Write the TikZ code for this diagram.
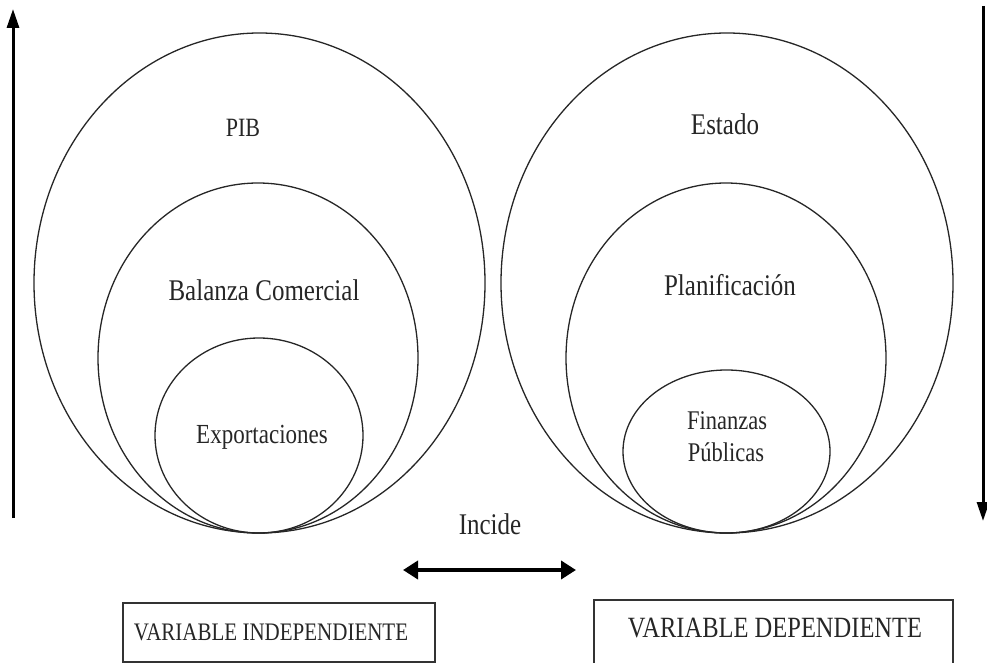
\documentclass[tikz,border=0pt]{standalone}
\usepackage{fontspec}
\usepackage{graphicx}
\setmainfont{Liberation Serif}
\usetikzlibrary{arrows.meta}
\newcommand{\tx}[2]{\scalebox{1}[1.2]{\fontsize{#1}{#1}\selectfont #2}}
\begin{document}
\begin{tikzpicture}[x=1pt,y=-1pt,
  ring/.style={draw=black!85, line width=1.3pt},
  lbl/.style={inner sep=0pt, align=center, text=black!85},
  vbox/.style={draw=black!80, line width=1.1pt},
  edgearrow/.style={line width=3pt, -{Triangle[length=19pt,width=12pt]}},
  bothways/.style={line width=4.5pt, {Triangle[length=15pt,width=18pt]}-{Triangle[length=15pt,width=18pt]}}]
\useasboundingbox (0,0) rectangle (987,663);
\clip (0,0) rectangle (987,663);
% left ellipses
\draw[ring] (259.5,283) ellipse [x radius=225.5, y radius=250];
\draw[ring] (258,358) ellipse [x radius=160, y radius=175];
\draw[ring] (259,435.5) ellipse [x radius=104, y radius=97.5];
% right ellipses
\draw[ring] (727,283) ellipse [x radius=226, y radius=250];
\draw[ring] (726,358) ellipse [x radius=160, y radius=175];
\draw[ring] (726.5,451.5) ellipse [x radius=103.5, y radius=81.5];
% labels
\node[lbl] (pib) at (243,128) {\tx{22}{PIB}};
\node[lbl] (bal) at (264,290) {\tx{25}{Balanza Comercial}};
\node[lbl] (exp) at (262,437) {\tx{23}{Exportaciones}};
\node[lbl] (est) at (725,124) {\tx{25}{Estado}};
\node[lbl] (pla) at (730,285) {\tx{25}{Planificación}};
\node[lbl] (fin1) at (727,421) {\tx{22.5}{Finanzas}};
\node[lbl] (fin2) at (726,452) {\tx{22.5}{Públicas}};
% side arrows
\coordinate (la0) at (13,518);
\coordinate (la1) at (13,9);
\draw[edgearrow] (la0) -- (la1);
\coordinate (ra0) at (983,6);
\coordinate (ra1) at (983,521);
\draw[edgearrow] (ra0) -- (ra1);
% incide
\node[lbl] (inc) at (490,524) {\tx{25}{Incide}};
\coordinate (d0) at (403,570);
\coordinate (d1) at (576,570);
\draw[bothways] (d0) -- (d1);
% boxes
\draw[vbox] (123,603) rectangle (435,662);
\node[lbl] (vi) at (271,632) {\tx{21}{VARIABLE INDEPENDIENTE}};
\draw[vbox] (594,600) rectangle (953,680);
\node[lbl] (vd) at (775,628) {\tx{24.5}{VARIABLE DEPENDIENTE}};
\end{tikzpicture}
\end{document}
